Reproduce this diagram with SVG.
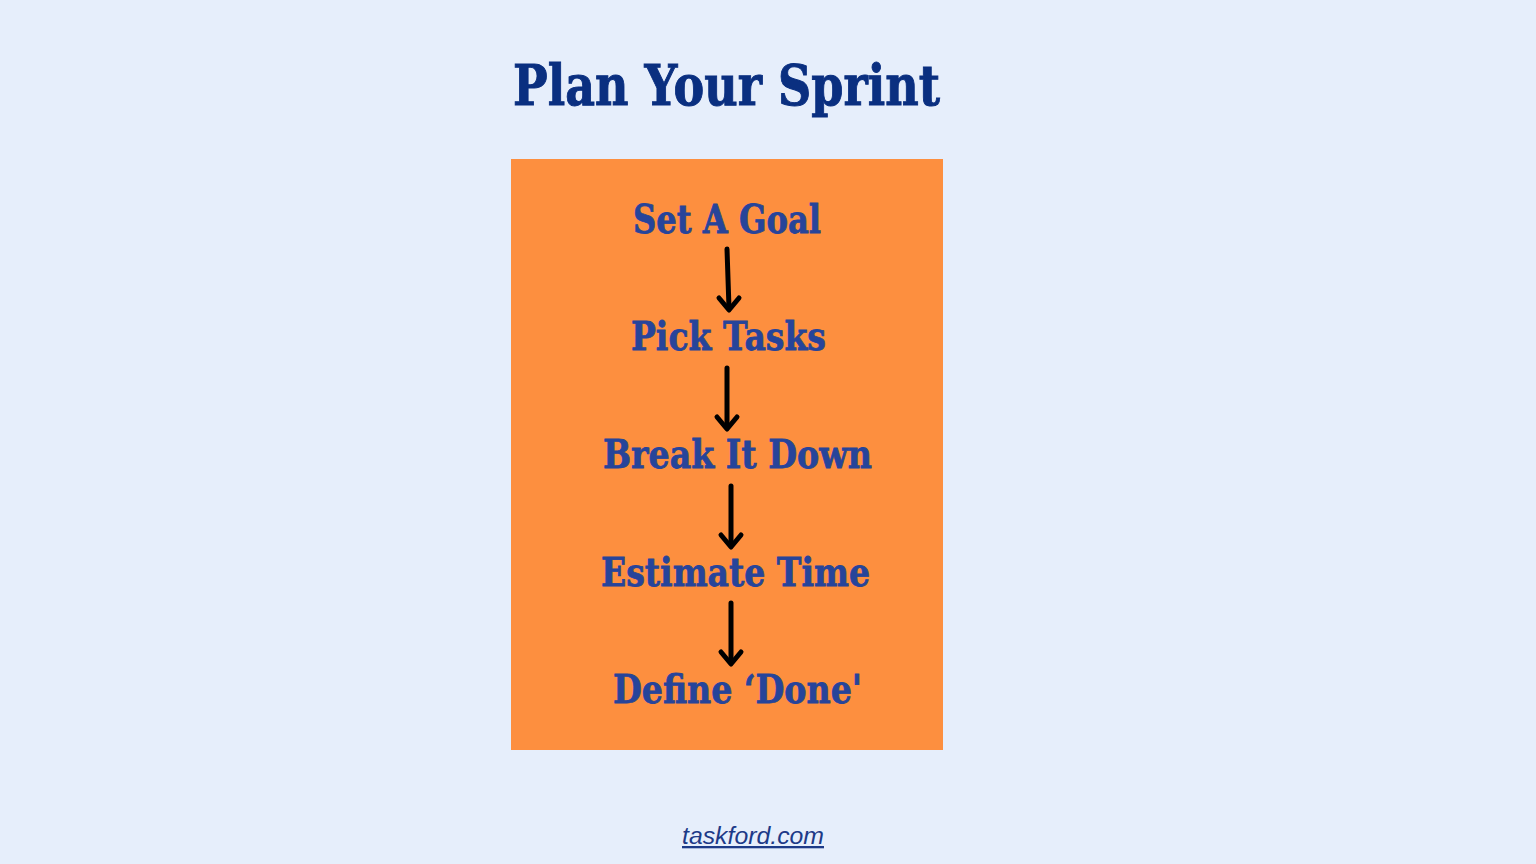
<svg xmlns="http://www.w3.org/2000/svg" width="1536" height="864" viewBox="0 0 1536 864">
<style>
.title{font-family:"DejaVu Serif","Liberation Serif",serif;font-weight:bold;font-size:56px;fill:#0a2f80;stroke:#0a2f80;stroke-width:1}
.lbl{font-family:"DejaVu Serif","Liberation Serif",serif;font-weight:bold;font-size:40px;fill:#27449a;stroke:#27449a;stroke-width:0.8}
.link{font-family:"Liberation Sans",Arial,sans-serif;font-style:italic;font-size:23px;fill:#1d3a88;text-decoration:underline}
.arr{stroke:#000;stroke-width:5;fill:none;stroke-linecap:round;stroke-linejoin:round}
</style>
<rect width="1536" height="864" fill="#e6eefb"/>
<text class="title" x="513" y="105" textLength="427" lengthAdjust="spacingAndGlyphs">Plan Your Sprint</text>
<rect x="511" y="159" width="432" height="591" fill="#fd8f3f"/>
<g id="n1"><text class="lbl" x="633" y="233" textLength="188" lengthAdjust="spacingAndGlyphs">Set A Goal</text></g>
<g id="n2"><text class="lbl" x="631" y="350" textLength="195" lengthAdjust="spacingAndGlyphs">Pick Tasks</text></g>
<g id="n3"><text class="lbl" x="603" y="468" textLength="269" lengthAdjust="spacingAndGlyphs">Break It Down</text></g>
<g id="n4"><text class="lbl" x="601" y="586" textLength="269" lengthAdjust="spacingAndGlyphs">Estimate Time</text></g>
<g id="n5"><text class="lbl" x="613" y="703" textLength="249" lengthAdjust="spacingAndGlyphs">Define ‘Done'</text></g>
<g id="connectors">
<path class="arr" d="M727,249 L729,308"/>
<path class="arr" d="M719,298 L729,310 L739,298"/>
<path class="arr" d="M727,368 L727,427"/>
<path class="arr" d="M717,417 L727,429 L737,417"/>
<path class="arr" d="M731,486 L731,545"/>
<path class="arr" d="M721,535 L731,547 L741,535"/>
<path class="arr" d="M731,603 L731,662"/>
<path class="arr" d="M721,652 L731,664 L741,652"/>
</g>
<text class="link" x="682" y="844" textLength="142" lengthAdjust="spacingAndGlyphs">taskford.com</text>
</svg>
